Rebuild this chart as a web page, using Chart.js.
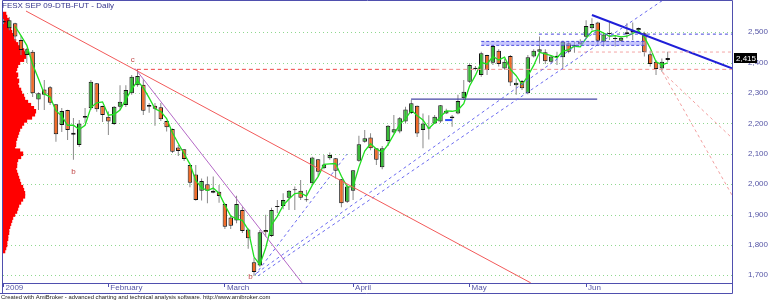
<!DOCTYPE html>
<html>
<head>
<meta charset="utf-8">
<title>FESX SEP 09-DTB-FUT - Daily</title>
<script src="https://cdn.jsdelivr.net/npm/chart.js@4.4.1/dist/chart.umd.min.js"></script>
<style>
  html, body { margin: 0; padding: 0; background: #ffffff; }
  #wrap { position: relative; width: 770px; height: 301px; }
</style>
</head>
<body>
<div id="wrap"><canvas id="chart" width="770" height="301"></canvas></div>
<script>
// FESX Sep 09 daily bars, January to mid June 2009 (bar index 0..114)
const opens = [
  2537, 2513, 2530, 2475, 2425, 2436, 2279, 2312, 2319, 2263,
  2195, 2244, 2169, 2129, 2224, 2250, 2332, 2257, 2222, 2198,
  2255, 2261, 2299, 2326, 2327, 2261, 2258, 2253, 2208, 2182,
  2121, 2115, 2063, 2032, 1978, 2000, 1978, 1975, 1935, 1890,
  1880, 1915, 1851, 1743, 1732, 1849, 1829, 1925, 1928, 1955,
  1980, 1978, 1948, 2003, 2082, 2052, 2085, 2085, 2016, 1942,
  1978, 2077, 2140, 2154, 2118, 2056, 2142, 2170, 2173, 2206,
  2234, 2258, 2178, 2184, 2200, 2206, 2233, 2223, 2233, 2283,
  2337, 2383, 2359, 2425, 2400, 2439, 2381, 2422, 2326, 2340,
  2299, 2420, 2436, 2434, 2403, 2418, 2418, 2464, 2453, 2469,
  2485, 2513, 2532, 2469, 2494, 2479, 2472, 2494, 2499, 2507,
  2497, 2428, 2403, 2381, 2409
];
const highs = [
  2544, 2550, 2531, 2488, 2448, 2442, 2303, 2343, 2323, 2264,
  2251, 2245, 2218, 2211, 2251, 2343, 2333, 2258, 2239, 2257,
  2326, 2326, 2359, 2378, 2345, 2267, 2267, 2267, 2209, 2183,
  2129, 2116, 2064, 2063, 2019, 2025, 2025, 1997, 1936, 1895,
  1962, 1925, 1855, 1757, 1849, 1899, 1922, 1948, 1970, 1981,
  1992, 2014, 1981, 2090, 2083, 2096, 2104, 2086, 2017, 1997,
  2047, 2159, 2178, 2168, 2119, 2126, 2195, 2228, 2221, 2255,
  2277, 2259, 2233, 2227, 2228, 2261, 2248, 2228, 2294, 2343,
  2398, 2389, 2436, 2426, 2458, 2444, 2412, 2425, 2348, 2343,
  2425, 2444, 2486, 2444, 2425, 2436, 2472, 2469, 2469, 2477,
  2540, 2546, 2535, 2497, 2535, 2491, 2486, 2530, 2532, 2516,
  2502, 2439, 2409, 2414, 2436
];
const lows = [
  2527, 2507, 2472, 2425, 2399, 2287, 2244, 2244, 2261, 2140,
  2172, 2145, 2080, 2122, 2201, 2244, 2238, 2205, 2162, 2195,
  2244, 2254, 2294, 2321, 2228, 2235, 2192, 2208, 2173, 2103,
  2093, 2076, 1990, 1945, 1946, 1937, 1970, 1939, 1852, 1852,
  1871, 1839, 1787, 1698, 1728, 1827, 1826, 1904, 1917, 1915,
  1915, 1948, 1942, 2000, 2025, 2049, 2080, 2019, 1924, 1938,
  1948, 2074, 2136, 2112, 2063, 2049, 2126, 2167, 2168, 2200,
  2231, 2155, 2118, 2147, 2198, 2201, 2231, 2189, 2230, 2277,
  2333, 2374, 2354, 2359, 2392, 2387, 2377, 2323, 2294, 2310,
  2296, 2417, 2398, 2396, 2398, 2392, 2381, 2431, 2433, 2458,
  2480, 2507, 2458, 2453, 2475, 2453, 2469, 2480, 2475, 2502,
  2420, 2387, 2359, 2370, 2403
];
const closes = [
  2532, 2540, 2486, 2442, 2444, 2299, 2299, 2294, 2268, 2164,
  2241, 2178, 2163, 2200, 2219, 2337, 2247, 2228, 2206, 2255,
  2271, 2310, 2354, 2356, 2242, 2255, 2248, 2214, 2187, 2107,
  2109, 2083, 2005, 1948, 2010, 1978, 1972, 1961, 1860, 1863,
  1935, 1846, 1822, 1711, 1842, 1842, 1915, 1926, 1948, 1978,
  1981, 1955, 1947, 2088, 2041, 2065, 2096, 2044, 1937, 1992,
  2046, 2131, 2151, 2118, 2080, 2118, 2192, 2181, 2217, 2246,
  2266, 2167, 2200, 2183, 2222, 2260, 2242, 2217, 2274, 2304,
  2392, 2379, 2431, 2376, 2455, 2396, 2403, 2335, 2334, 2316,
  2418, 2439, 2444, 2405, 2420, 2423, 2469, 2436, 2458, 2461,
  2521, 2527, 2472, 2493, 2495, 2478, 2482, 2500, 2505, 2514,
  2434, 2396, 2379, 2403, 2415
];
// short smoothing line plotted over the candles
const smoothLine = [
  null, null, 2519, 2489, 2457, 2395, 2347, 2297, 2287, 2242,
  2224, 2194, 2194, 2180, 2194, 2252, 2268, 2271, 2227, 2230,
  2244, 2279, 2312, 2340, 2317, 2284, 2248, 2239, 2216, 2169,
  2134, 2100, 2066, 2012, 1988, 1979, 1987, 1970, 1931, 1895,
  1886, 1881, 1850, 1760, 1735, 1790, 1866, 1894, 1930, 1951,
  1969, 1971, 1961, 1997, 2025, 2065, 2067, 2068, 2026, 1991,
  1992, 2056, 2109, 2133, 2116, 2105, 2130, 2164, 2197, 2215,
  2243, 2226, 2211, 2183, 2202, 2222, 2241, 2240, 2244, 2265,
  2323, 2358, 2401, 2395, 2421, 2409, 2418, 2378, 2357, 2328,
  2356, 2391, 2434, 2429, 2423, 2416, 2437, 2443, 2454, 2452,
  2480, 2503, 2507, 2497, 2487, 2489, 2485, 2487, 2496, 2506,
  2484, 2448, 2403, 2393, 2399
];

// month boundaries on the date axis
const monthStarts = [0, 18, 38, 60, 80, 100];
const monthNames = ['2009', 'February', 'March', 'April', 'May', 'Jun'];
const priceTicks = [1700, 1800, 1900, 2000, 2100, 2200, 2300, 2400, 2500];

// volume-at-price profile (relative volume per 10-point price bin)
const profilePrices = [
  2560, 2550, 2540, 2530, 2520, 2510, 2500, 2490, 2480, 2470,
  2460, 2450, 2440, 2430, 2420, 2410, 2400, 2390, 2380, 2370,
  2360, 2350, 2340, 2330, 2320, 2310, 2300, 2290, 2280, 2270,
  2260, 2250, 2240, 2230, 2220, 2210, 2200, 2190, 2180, 2170,
  2160, 2150, 2140, 2130, 2120, 2110, 2100, 2090, 2080, 2070,
  2060, 2050, 2040, 2030, 2020, 2010, 2000, 1990, 1980, 1970,
  1960, 1950, 1940, 1930, 1920, 1910, 1900, 1890, 1880, 1870,
  1860, 1850, 1840, 1830, 1820, 1810, 1800, 1790, 1780
];
const profileVolume = [
  3, 4, 6, 7, 7, 8, 9, 10, 11, 13,
  15, 19, 21, 22, 23, 21, 17, 15, 14, 13,
  15, 14, 16, 15, 16, 18, 19, 21, 22, 25,
  28, 31, 33, 32, 29, 24, 21, 19, 17, 16,
  15, 14, 13, 13, 12, 17, 20, 18, 15, 14,
  14, 13, 14, 15, 16, 17, 18, 20, 21, 22,
  22, 20, 18, 16, 15, 14, 12, 10, 9, 8,
  7, 6, 6, 5, 5, 4, 4, 3, 2
];

// drawn studies, as [barIndex, price] end points
const redTrend      = [[3.86, 2570], [90.5, 1675]];
const purpleTrend   = [[22.57, 2381], [51.24, 1675]];
const riseSteep     = [[43.17, 1701], [58.96, 2099]];
const riseUpper     = [[43.51, 1708], [102.0, 2507]];
const riseLower     = [[43.68, 1698], [113.2, 2606]];
const juneDown      = [[101.0, 2557], [125.04, 2381]];
const fanA          = [[113.1, 2369], [125.04, 2152]];
const fanB          = [[113.1, 2369], [125.04, 1964]];
const levelC        = [[22.9, 2378], [74.1, 2378]];
const levelCRight   = [[74.1, 2378], [125.04, 2378]];
const levelJune     = [[98.6, 2435], [125.04, 2435]];
const levelTop      = [[91.9, 2494], [125.04, 2494]];
const levelApril    = [[69.95, 2280], [101.9, 2280]];
const levelShort    = [[75.8, 2211], [77.0, 2211]];
const bandTop       = [[82.0, 2470], [110.1, 2470]];
const bandBottom    = [[82.0, 2457], [110.1, 2457]];

// wave labels
const waveText  = ['c', 'b', 'b'];
const waveIndex = [22.2, 12.0, 42.4];
const wavePrice = [2409, 2040, 1694];

const priceMin = 1674.6, priceMax = 2606.3;
const barMin = -0.086, barMax = 125.04;

const upColor = '#37ba37';
const downColor = '#f16b28';
const frameColor = '#4f4fae';
const axisText = '#5656a6';
const FONT = '"Liberation Sans", Arial, sans-serif';

function seg(points, color, width, dash) {
  return {
    type: 'line',
    data: points.map(p => ({ x: p[0], y: p[1] })),
    borderColor: color,
    borderWidth: width,
    borderDash: dash || [],
    pointRadius: 0,
    fill: false,
    tension: 0,
    order: 0,
    xAxisID: 'x',
    yAxisID: 'y'
  };
}

const bodyColors = closes.map((c, i) => (c >= opens[i] ? upColor : downColor));

const datasets = [
  seg(bandTop, '#4a4ae0', 1, [3, 2]),
  Object.assign(seg(bandBottom, '#4a4ae0', 1, [3, 2]), { fill: '-1', backgroundColor: 'rgba(160,160,250,0.6)' }),
  seg(redTrend, '#f25a5a', 1),
  seg(purpleTrend, '#b468c6', 1),
  seg(riseSteep, '#6a6af0', 1, [3, 3]),
  seg(riseUpper, '#6a6af0', 1, [3, 3]),
  seg(riseLower, '#6a6af0', 1, [3, 3]),
  seg(levelC, '#ee4646', 1, [4, 3]),
  seg(levelCRight, '#f39090', 1, [4, 3]),
  seg(levelJune, '#f4a6a6', 1, [3, 3]),
  seg(levelTop, '#4646dc', 1, [3, 3]),
  seg(levelApril, '#4444a6', 1.2),
  seg(levelShort, '#2f4fff', 2),
  seg(juneDown, '#1f1fd8', 2),
  seg(fanA, '#f2a0a0', 1, [3, 3]),
  seg(fanB, '#f2a0a0', 1, [3, 3]),
  {
    type: 'line',
    data: smoothLine.map((v, i) => ({ x: i, y: v })),
    borderColor: '#1fe01f',
    borderWidth: 1.3,
    pointRadius: 0,
    tension: 0,
    fill: false,
    order: 1,
    xAxisID: 'x',
    yAxisID: 'y'
  },
  {
    type: 'bar',
    data: opens.map((o, i) => ({ x: i, y: [o, closes[i]] })),
    backgroundColor: bodyColors,
    borderColor: '#141414',
    borderWidth: 1,
    borderSkipped: false,
    barThickness: 4.5,
    minBarLength: 1,
    grouped: false,
    inflateAmount: 0,
    order: 2,
    xAxisID: 'x',
    yAxisID: 'y'
  },
  {
    type: 'bar',
    data: lows.map((l, i) => ({ x: i, y: [l, highs[i]] })),
    backgroundColor: '#8a8a8a',
    borderWidth: 0,
    barThickness: 1,
    grouped: false,
    inflateAmount: 0,
    order: 3,
    xAxisID: 'x',
    yAxisID: 'y'
  },
  {
    type: 'bar',
    indexAxis: 'y',
    data: profilePrices.map((p, i) => ({ x: profileVolume[i], y: p })),
    backgroundColor: '#ff0000',
    borderWidth: 0,
    barThickness: 4,
    grouped: false,
    inflateAmount: 0.3,
    order: 4,
    xAxisID: 'xVol',
    yAxisID: 'yProf'
  }
];

// dotted price grid under the bars
const dottedGrid = {
  id: 'dottedGrid',
  beforeDatasetsDraw(chart) {
    const { ctx, chartArea: a, scales } = chart;
    ctx.save();
    ctx.strokeStyle = '#8fd88f';
    ctx.lineWidth = 1;
    ctx.setLineDash([1, 3]);
    priceTicks.forEach(v => {
      const y = Math.round(scales.y.getPixelForValue(v)) + 0.5;
      ctx.beginPath();
      ctx.moveTo(a.left, y);
      ctx.lineTo(a.right, y);
      ctx.stroke();
    });
    ctx.restore();
  }
};

// frame, title, wave labels, last-price tag and footer
const decorations = {
  id: 'decorations',
  afterDraw(chart) {
    const { ctx, chartArea: a, scales } = chart;
    ctx.save();

    // frame around the price pane and the date band
    ctx.strokeStyle = frameColor;
    ctx.lineWidth = 1;
    ctx.beginPath();
    const L = a.left - 0.5, R = Math.round(a.right) + 0.5, T = a.top + 0.5;
    const B = Math.round(a.bottom) + 0.5, BB = B + 10;
    ctx.moveTo(L, T); ctx.lineTo(R, T);
    ctx.moveTo(L, T); ctx.lineTo(L, BB);
    ctx.moveTo(R, T); ctx.lineTo(R, BB);
    ctx.moveTo(L, B); ctx.lineTo(R, B);
    ctx.moveTo(0, BB); ctx.lineTo(R, BB);
    ctx.stroke();

    // chart title
    ctx.fillStyle = '#34348c';
    ctx.font = '8px ' + FONT;
    ctx.textBaseline = 'middle';
    ctx.textAlign = 'left';
    ctx.fillText('FESX SEP 09-DTB-FUT - Daily', a.left - 1, 6);

    // wave labels
    ctx.fillStyle = '#c24a4a';
    ctx.textAlign = 'center';
    waveText.forEach((t, i) => {
      ctx.fillText(t, scales.x.getPixelForValue(waveIndex[i]), scales.y.getPixelForValue(wavePrice[i]));
    });

    // last price tag on the price axis
    const last = closes[closes.length - 1];
    const py = Math.round(scales.y.getPixelForValue(last));
    ctx.fillStyle = '#000000';
    ctx.fillRect(R + 1.5, py - 5, 23, 10);
    ctx.fillStyle = '#ffffff';
    ctx.textAlign = 'left';
    ctx.font = '8px ' + FONT;
    ctx.fillText(last.toLocaleString('en-US'), R + 3.5, py + 0.5);

    // footer
    ctx.fillStyle = '#1a1a1a';
    ctx.font = '5.9px ' + FONT;
    ctx.fillText('Created with AmiBroker - advanced charting and technical analysis software. http://www.amibroker.com', 1, 297.5);
    ctx.restore();
  }
};

new Chart(document.getElementById('chart'), {
  type: 'bar',
  data: { datasets },
  options: {
    responsive: false,
    animation: false,
    devicePixelRatio: 1,
    events: [],
    locale: 'en-US',
    layout: { padding: { left: 3, top: 0, right: 0, bottom: 0 } },
    plugins: { legend: { display: false }, tooltip: { enabled: false } },
    scales: {
      x: {
        type: 'linear',
        position: 'bottom',
        min: barMin,
        max: barMax,
        offset: false,
        afterFit: s => { s.height = 18; s.paddingLeft = 0; s.paddingRight = 0; },
        afterBuildTicks: s => { s.ticks = monthStarts.map(v => ({ value: v })); },
        border: { display: false },
        grid: {
          offset: false,
          drawOnChartArea: false,
          drawTicks: true,
          tickLength: 4,
          color: frameColor,
          lineWidth: 1
        },
        ticks: {
          autoSkip: false,
          maxRotation: 0,
          align: 'start',
          labelOffset: 2,
          padding: -4,
          color: axisText,
          font: { family: FONT, size: 8 },
          callback: v => monthNames[monthStarts.indexOf(v)]
        }
      },
      y: {
        type: 'linear',
        position: 'right',
        min: priceMin,
        max: priceMax,
        beginAtZero: false,
        offset: false,
        afterFit: s => { s.width = 38; s.paddingTop = 0; s.paddingBottom = 0; },
        afterBuildTicks: s => { s.ticks = priceTicks.map(v => ({ value: v })); },
        border: { display: false },
        grid: { display: false, drawTicks: false },
        ticks: {
          padding: 16,
          color: axisText,
          font: { family: FONT, size: 8 },
          callback: v => v.toLocaleString('en-US')
        }
      },
      xVol: {
        type: 'linear',
        axis: 'x',
        position: 'bottom',
        display: false,
        offset: false,
        min: 0,
        max: Math.max(...profileVolume) / 0.045,
        grid: { offset: false }
      },
      yProf: {
        type: 'linear',
        axis: 'y',
        position: 'right',
        display: false,
        offset: false,
        min: priceMin,
        max: priceMax,
        beginAtZero: false,
        grid: { offset: false }
      }
    }
  },
  plugins: [dottedGrid, decorations]
});
</script>
</body>
</html>
